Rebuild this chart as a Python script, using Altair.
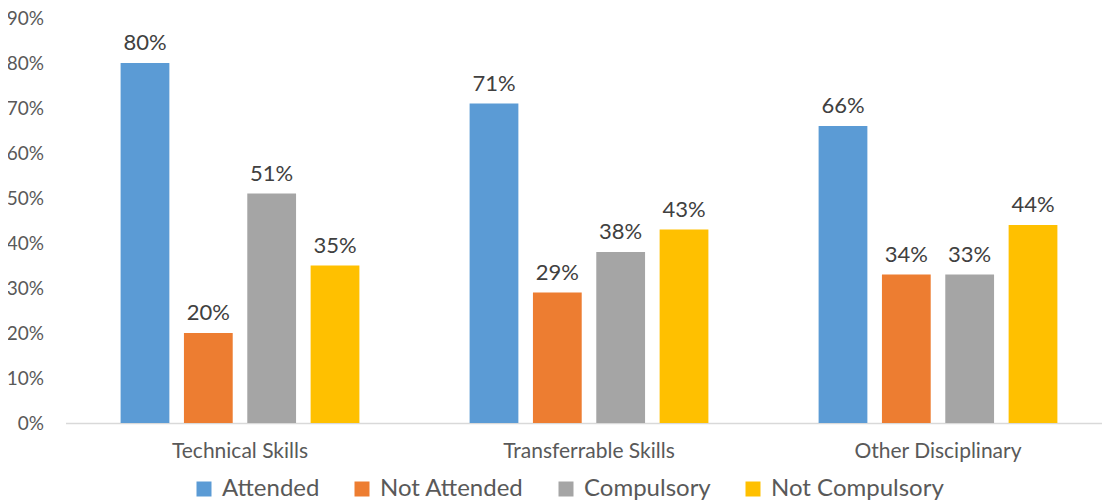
import altair as alt
import pandas as pd

categories = ["Technical Skills", "Transferrable Skills", "Other Disciplinary"]
series = ["Attended", "Not Attended", "Compulsory", "Not Compulsory"]
attended = [0.80, 0.71, 0.66]
not_attended = [0.20, 0.29, 0.33]
compulsory = [0.51, 0.38, 0.33]
not_compulsory = [0.35, 0.43, 0.44]
label_attended = ["80%", "71%", "66%"]
label_not_attended = ["20%", "29%", "34%"]
label_compulsory = ["51%", "38%", "33%"]
label_not_compulsory = ["35%", "43%", "44%"]
colors = ["#5B9BD5", "#ED7D31", "#A5A5A5", "#FFC000"]
y_ticks = [0.0, 0.1, 0.2, 0.3, 0.4, 0.5, 0.6, 0.7, 0.8, 0.9]

values = [attended, not_attended, compulsory, not_compulsory]
labels = [label_attended, label_not_attended, label_compulsory, label_not_compulsory]
rows = []
for ci, cat in enumerate(categories):
    for si, s in enumerate(series):
        rows.append({"category": cat, "series": s,
                     "value": values[si][ci], "label": labels[si][ci]})
df = pd.DataFrame(rows)

FONT = "Lato"

x_enc = alt.X("category:N", sort=categories,
              scale=alt.Scale(range=[0, 1047], paddingInner=0, paddingOuter=0),
              axis=alt.Axis(title=None, labelFontSize=21, labelColor="#595959",
                            labelFont=FONT, domainColor="#D9D9D9", domainWidth=1.5,
                            ticks=False, labelPadding=17, labelAngle=0))
xoff_enc = alt.XOffset("series:N", sort=series,
                       scale=alt.Scale(paddingInner=0.23, paddingOuter=0.87))
y_enc = alt.Y("value:Q", scale=alt.Scale(domain=[0, 0.9], nice=False),
              axis=alt.Axis(title=None, values=y_ticks, format=".0%", grid=False,
                            domain=False, ticks=False, labelPadding=22,
                            labelFontSize=19, labelColor="#595959", labelFont=FONT))

bars = alt.Chart(df).mark_bar().encode(
    x=x_enc, xOffset=xoff_enc, y=y_enc,
    color=alt.Color("series:N", sort=series,
                    scale=alt.Scale(domain=series, range=colors),
                    legend=alt.Legend(orient="none", legendX=126.5, legendY=459,
                                      direction="horizontal", title=None,
                                      symbolType="square", symbolSize=225,
                                      symbolStrokeWidth=0, labelFontSize=24,
                                      labelFont=FONT, labelColor="#595959",
                                      labelOffset=6, columnPadding=30,
                                      labelLimit=400)),
)

text = alt.Chart(df).mark_text(dy=-13, baseline="alphabetic", fontSize=22,
                               color="#404040", font=FONT).encode(
    x=x_enc, xOffset=xoff_enc, y=y_enc, text="label:N")

chart = alt.layer(bars, text).properties(
    width=1036, height=405,
    autosize=alt.AutoSizeParams(type="none"),
    padding={"left": 57.5, "top": 10, "right": 0, "bottom": 80},
).configure_view(stroke=None)

chart.save("out.html", embed_options={"renderer": "svg", "actions": False})
